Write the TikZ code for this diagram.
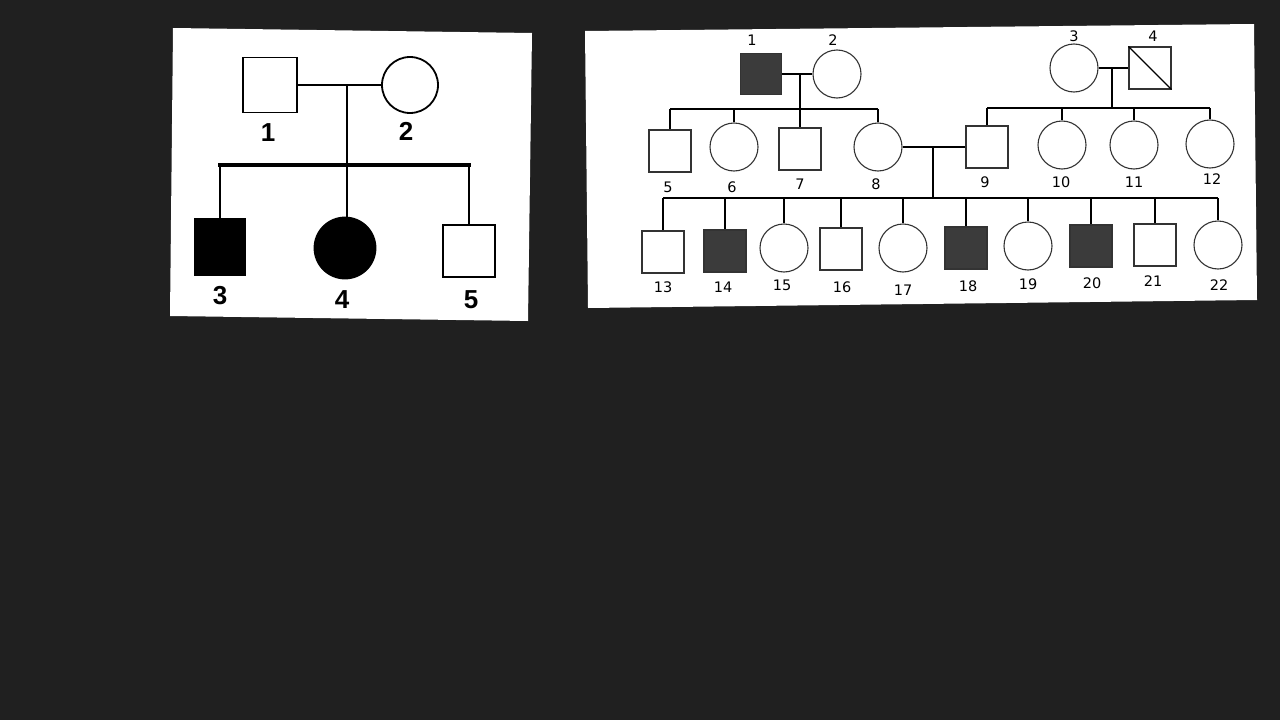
\documentclass[tikz,border=0pt]{standalone}
\usepackage{fontspec}
\newfontfamily\lfont{Liberation Sans}
\newfontfamily\rfont{DejaVu Sans}
\definecolor{bgc}{HTML}{202020}
\definecolor{affc}{HTML}{3B3B3B}
\begin{document}
\begin{tikzpicture}[x=1pt,y=-1pt,
  lsq/.style={draw=black, line width=1.8pt, rectangle, inner sep=0pt, minimum width=54pt, minimum height=55pt, fill=white},
  lci/.style={draw=black, line width=1.8pt, circle, inner sep=0pt, minimum size=56pt, fill=white},
  llab/.style={font=\lfont\bfseries\fontsize{26}{26}\selectfont, text=black, inner sep=0pt},
  lcon/.style={draw=black, line width=1.8pt},
  lbar/.style={draw=black, line width=3.5pt},
  rsq/.style={draw=black!80, line width=1.1pt, rectangle, inner sep=0pt, minimum size=42pt, fill=white},
  rci/.style={draw=black!80, line width=1.1pt, circle, inner sep=0pt, minimum size=48pt, fill=white},
  raff/.style={rsq, fill=affc},
  rlab/.style={font=\rfont\fontsize{14.5}{14.5}\selectfont, text=black, inner sep=0pt},
  rcon/.style={draw=black, line width=2.2pt}
]
\fill[bgc] (0,0) rectangle (1280,720);
\useasboundingbox (0,0) rectangle (1280,720);

% ---------------- left panel ----------------
\fill[white] (173,28) -- (532,33) -- (528,321) -- (170,316) -- cycle;
\node[lsq] (L1) at (270,85) {};
\node[lci] (L2) at (410,85) {};
\node[lsq, fill=black, minimum width=50pt, minimum height=56pt] (L3) at (220,247) {};
\node[lci, fill=black, minimum size=61pt] (L4) at (345,248) {};
\node[lsq, minimum width=52pt, minimum height=52pt] (L5) at (469,251) {};
\coordinate (Lm) at (347,85);
\coordinate (Lb) at (347,165);
\draw[lcon] (L1.east) -- (L2.west);
\draw[lcon] (Lm) -- (Lb);
\draw[lbar, line cap=rect] (L3.north |- Lb) -- (L5.north |- Lb);
\draw[lcon] (L3.north |- Lb) -- (L3.north);
\draw[lcon] (Lb) -- (L4.north -| Lb);
\draw[lcon] (L5.north |- Lb) -- (L5.north);
\node[llab] (Lt1) at (268,133) {1};
\node[llab] (Lt2) at (406,131) {2};
\node[llab] (Lt3) at (220,296) {3};
\node[llab] (Lt4) at (342,300) {4};
\node[llab] (Lt5) at (471,300) {5};

% ---------------- right panel ----------------
\fill[white] (585,31) -- (1254,24) -- (1257,300) -- (588,308) -- cycle;
% generation I
\node[raff, minimum size=41pt] (R1) at (761,74) {};
\node[rci] (R2) at (837,74) {};
\node[rci] (R3) at (1074,68) {};
\node[rsq] (R4) at (1150,68) {};
\draw[line width=1.1pt] (R4.north west) -- (R4.south east);
% generation II
\node[rsq] (R5) at (670,151) {};
\node[rci] (R6) at (734,147) {};
\node[rsq] (R7) at (800,149) {};
\node[rci] (R8) at (878,147) {};
\node[rsq] (R9) at (987,147) {};
\node[rci] (R10) at (1062,145) {};
\node[rci] (R11) at (1134,145) {};
\node[rci] (R12) at (1210,144) {};
% generation III
\node[rsq] (R13) at (663,252) {};
\node[raff] (R14) at (725,251) {};
\node[rci] (R15) at (784,248) {};
\node[rsq] (R16) at (841,249) {};
\node[rci] (R17) at (903,248) {};
\node[raff] (R18) at (966,248) {};
\node[rci] (R19) at (1028,246) {};
\node[raff] (R20) at (1091,246) {};
\node[rsq] (R21) at (1155,245) {};
\node[rci] (R22) at (1218,245) {};

% connectors: family 1x2
\coordinate (Ra) at (800,74);
\coordinate (Rab) at (800,109);
\draw[rcon] (R1.east) -- (R2.west);
\draw[rcon] (Ra) -- (Rab);
\draw[rcon] (R5.north |- Rab) -- (R8.north |- Rab);
\foreach \c in {R5,R6,R7,R8} \draw[rcon] (\c.north |- Rab) -- (\c.north);
% family 3x4
\coordinate (Rc) at (1112,68);
\coordinate (Rcb) at (1112,108);
\draw[rcon] (R3.east) -- (R4.west);
\draw[rcon] (Rc) -- (Rcb);
\draw[rcon] (R9.north |- Rcb) -- (R12.north |- Rcb);
\foreach \c in {R9,R10,R11,R12} \draw[rcon] (\c.north |- Rcb) -- (\c.north);
% family 8x9
\coordinate (Rd) at (933,147);
\coordinate (Rdb) at (933,198);
\draw[rcon] (R8.east) -- (R9.west);
\draw[rcon] (Rd) -- (Rdb);
\draw[rcon] (R13.north |- Rdb) -- (R22.north |- Rdb);
\foreach \c in {R13,R14,R15,R16,R17,R18,R19,R20,R21,R22} \draw[rcon] (\c.north |- Rdb) -- (\c.north);

% labels
\node[rlab] (Rt1) at (752,40) {1};
\node[rlab] (Rt2) at (833,40) {2};
\node[rlab] (Rt3) at (1074,36) {3};
\node[rlab] (Rt4) at (1153,36) {4};
\node[rlab] (Rt5) at (668,187) {5};
\node[rlab] (Rt6) at (732,187) {6};
\node[rlab] (Rt7) at (800,184) {7};
\node[rlab] (Rt8) at (876,184) {8};
\node[rlab] (Rt9) at (985,182) {9};
\node[rlab] (Rt10) at (1061,182) {10};
\node[rlab] (Rt11) at (1134,182) {11};
\node[rlab] (Rt12) at (1212,179) {12};
\node[rlab] (Rt13) at (663,287) {13};
\node[rlab] (Rt14) at (723,287) {14};
\node[rlab] (Rt15) at (782,285) {15};
\node[rlab] (Rt16) at (842,287) {16};
\node[rlab] (Rt17) at (903,290) {17};
\node[rlab] (Rt18) at (968,286) {18};
\node[rlab] (Rt19) at (1028,284) {19};
\node[rlab] (Rt20) at (1092,283) {20};
\node[rlab] (Rt21) at (1153,281) {21};
\node[rlab] (Rt22) at (1219,285) {22};
\end{tikzpicture}
\end{document}
